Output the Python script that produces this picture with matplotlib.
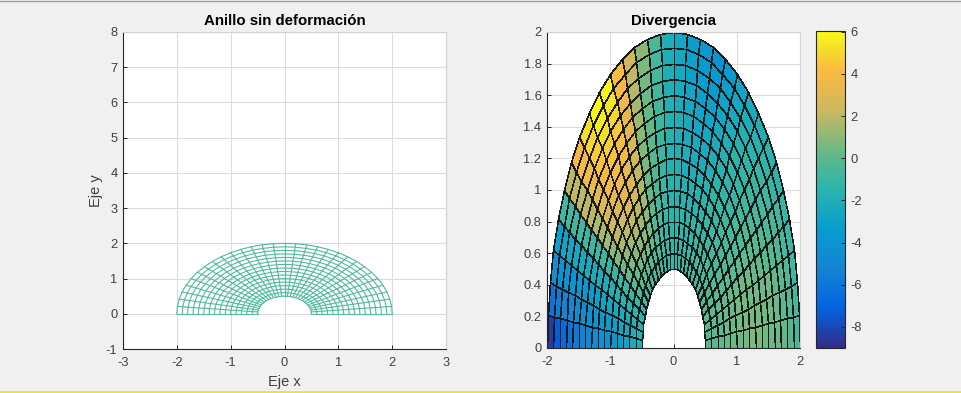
import matplotlib
matplotlib.use('Agg')
import matplotlib.pyplot as plt
import numpy as np
from matplotlib.colors import LinearSegmentedColormap, Normalize
from matplotlib.lines import Line2D

plt.rcParams['font.family'] = ['Liberation Sans', 'DejaVu Sans']
plt.rcParams['axes.unicode_minus'] = False

radii = [0.5, 0.6, 0.7, 0.8, 0.9, 1.0, 1.1, 1.2, 1.3, 1.4, 1.5, 1.6, 1.7, 1.8, 1.9, 2.0]
angles_deg = [0, 6, 12, 18, 24, 30, 36, 42, 48, 54, 60, 66, 72, 78, 84, 90, 96, 102, 108,
              114, 120, 126, 132, 138, 144, 150, 156, 162, 168, 174, 180]

# one list per sector, right to left; inside each list inner ring -> outer ring
divergence = [
    [-.2, -.1, 0, .2, .3, .4, .5, .6, .6, .5, .4, .3, .1, -.2, -.6],
    [-.2, 0, .1, .3, .4, .5, .6, .6, .6, .5, .4, .3, 0, -.2, -.7],
    [-.2, 0, .1, .3, .4, .5, .5, .5, .5, .4, .3, .1, -.1, -.4, -.8],
    [-.2, -.1, 0, .1, .2, .3, .3, .3, .2, .1, 0, -.2, -.4, -.6, -.9],
    [-.2, -.2, -.1, -.1, 0, 0, 0, 0, -.1, -.2, -.3, -.5, -.6, -.8, -1.1],
    [-.3, -.3, -.3, -.3, -.3, -.3, -.3, -.4, -.4, -.5, -.6, -.7, -.9, -1.1, -1.3],
    [-.4, -.4, -.4, -.5, -.5, -.6, -.6, -.7, -.8, -.8, -.9, -1, -1.1, -1.3, -1.5],
    [-.5, -.5, -.6, -.6, -.7, -.8, -.9, -1, -1, -1.1, -1.2, -1.3, -1.5, -1.7, -1.9],
    [-.6, -.6, -.7, -.8, -.9, -1, -1.1, -1.2, -1.3, -1.4, -1.5, -1.7, -1.8, -2, -2.3],
    [-.7, -.8, -.9, -1, -1.1, -1.2, -1.3, -1.5, -1.6, -1.8, -1.9, -2.1, -2.3, -2.5, -2.8],
    [-.8, -.9, -1, -1.2, -1.3, -1.5, -1.6, -1.8, -2, -2.2, -2.4, -2.6, -2.8, -3.1, -3.5],
    [-.9, -1, -1.2, -1.3, -1.5, -1.7, -1.9, -2.1, -2.3, -2.5, -2.8, -3, -3.3, -3.6, -4],
    [-1, -1.2, -1.3, -1.5, -1.6, -1.8, -2, -2.2, -2.4, -2.6, -2.8, -3, -3.2, -3.4, -3.7],
    [-1.1, -1.2, -1.4, -1.5, -1.7, -1.8, -2, -2.1, -2.3, -2.4, -2.6, -2.7, -2.9, -3, -3.2],
    [-1.2, -1.3, -1.4, -1.5, -1.6, -1.7, -1.8, -1.9, -2, -2.1, -2.2, -2.3, -2.4, -2.5, -2.6],
    [-1.2, -1.3, -1.4, -1.5, -1.5, -1.6, -1.6, -1.7, -1.7, -1.8, -1.8, -1.9, -1.9, -2, -2],
    [-1.1, -1.1, -1.1, -1.1, -1, -1, -1, -.9, -.9, -.9, -.8, -.8, -.7, -.6, -.5],
    [-1, -.9, -.8, -.7, -.6, -.5, -.3, -.2, -.1, .1, .2, .4, .5, .7, 1],
    [-.9, -.7, -.5, -.3, -.1, .1, .3, .6, .8, 1, 1.3, 1.5, 1.8, 2.1, 2.5],
    [-.6, -.3, .1, .5, .9, 1.3, 1.7, 2, 2.4, 2.7, 3, 3.3, 3.6, 3.9, 4.2],
    [-.5, -.1, .4, .9, 1.4, 1.9, 2.4, 2.9, 3.3, 3.8, 4.2, 4.6, 5, 5.4, 5.8],
    [-.4, 0, .5, 1, 1.5, 2, 2.6, 3.1, 3.6, 4, 4.4, 4.8, 5.2, 5.6, 6],
    [-.4, 0, .4, .9, 1.4, 1.9, 2.4, 2.9, 3.3, 3.7, 4, 4.3, 4.6, 4.9, 5.2],
    [-.5, -.2, .2, .6, 1, 1.5, 1.9, 2.3, 2.7, 3, 3.3, 3.5, 3.7, 3.8, 3.9],
    [-.8, -.5, -.2, .1, .4, .7, 1, 1.3, 1.5, 1.7, 1.9, 2, 2, 2, 1.9],
    [-1.1, -1.1, -1.1, -1, -1, -1, -1, -.9, -.9, -.9, -.9, -.8, -.8, -.8, -.8],
    [-1.4, -1.5, -1.6, -1.7, -1.8, -1.9, -2, -2.1, -2.2, -2.3, -2.4, -2.5, -2.6, -2.8, -3],
    [-1.6, -1.8, -2, -2.2, -2.4, -2.6, -2.8, -3, -3.2, -3.4, -3.6, -3.8, -4, -4.2, -4.5],
    [-1.8, -2.1, -2.4, -2.7, -3, -3.3, -3.6, -3.9, -4.1, -4.4, -4.7, -5, -5.3, -5.7, -6.2],
    [-2, -2.4, -2.8, -3.2, -3.6, -4, -4.3, -4.7, -5, -5.4, -5.8, -6.2, -6.6, -7.3, -8.4],
]

parula = LinearSegmentedColormap.from_list('parula_old', [
    (0.0, (.2081, .1663, .5292)),
    (.125, (.0117, .3875, .8820)),
    (.25, (.0780, .5200, .8312)),
    (.375, (.0265, .6137, .8135)),
    (.5, (.16, .71, .68)),
    (.6, (.36, .725, .55)),
    (.75, (.80, .72, .37)),
    (.875, (.99, .73, .25)),
    (.95, (.96, .88, .15)),
    (1.0, (.976, .984, .0805)),
])

W, H = 961, 393
BG = '#f0f0f0'
DARK = '#262626'
GRID = '#dcdcdc'
TXT = '#404040'


def px_axes(fig, x0, x1, y0, y1):
    return fig.add_axes([x0 / W, 1 - y1 / H, (x1 - x0) / W, (y1 - y0) / H])


def style_axes(ax):
    ax.set_axisbelow(True)
    ax.grid(True, color=GRID, linewidth=0.8)
    ax.tick_params(direction='in', length=3, width=0.7, color=DARK, labelcolor=TXT,
                   labelsize=9.3, pad=4)
    ax.tick_params(axis='x', pad=6)
    for side in ['left', 'bottom']:
        ax.spines[side].set_color(DARK)
        ax.spines[side].set_linewidth(0.8)
    for side in ['top', 'right']:
        ax.spines[side].set_color('#d2d2d2')
        ax.spines[side].set_linewidth(0.8)


def main():
    fig = plt.figure(figsize=(W / 100, H / 100), dpi=100, facecolor=BG)

    t = np.deg2rad(angles_deg)
    rr, tt = np.meshgrid(radii, t)
    X = rr * np.cos(tt)
    Y = rr * np.sin(tt)

    ax1 = px_axes(fig, 123, 446, 32, 349)
    style_axes(ax1)
    ax1.plot(X, Y, color='#52b8a0', linewidth=0.8)
    ax1.plot(X.T, Y.T, color='#52b8a0', linewidth=0.8)
    ax1.set_xlim(-3, 3)
    ax1.set_ylim(-1, 8)
    ax1.set_xticks(range(-3, 4))
    ax1.set_yticks(range(-1, 9))
    ax1.set_title('Anillo sin deformación', fontsize=10.8, fontweight='bold', pad=5)
    ax1.set_xlabel('Eje x', fontsize=10.5, color=TXT, labelpad=4)
    ax1.set_ylabel('Eje y', fontsize=10.5, color=TXT, labelpad=2)

    ax2 = px_axes(fig, 547, 800, 32, 348)
    style_axes(ax2)
    norm = Normalize(-9, 6.06)
    mesh = ax2.pcolormesh(X, Y, np.array(divergence), cmap=parula, norm=norm,
                          edgecolors='#1a1a1a', linewidth=0.4)
    ax2.set_xlim(-2, 2)
    ax2.set_ylim(0, 2)
    ax2.set_xticks(range(-2, 3))
    yt = [0, .2, .4, .6, .8, 1, 1.2, 1.4, 1.6, 1.8, 2]
    ax2.set_yticks(yt)
    ax2.set_yticklabels([f'{v:g}' for v in yt])
    ax2.set_title('Divergencia', fontsize=10.8, fontweight='bold', pad=5)

    cax = px_axes(fig, 816, 845, 30.5, 348)
    cbar = fig.colorbar(mesh, cax=cax)
    cbar.set_ticks([-8, -6, -4, -2, 0, 2, 4, 6])
    cbar.ax.tick_params(direction='in', length=3, width=0.7, color=DARK, labelcolor=TXT,
                        labelsize=9.3, pad=4)
    cbar.outline.set_edgecolor(DARK)
    cbar.outline.set_linewidth(0.8)

    fig.add_artist(Line2D([0, 1], [1 - 0.5 / H] * 2, color='#a0a0a0', linewidth=1))
    fig.add_artist(Line2D([0, 1], [1 - 392 / H] * 2, color='#f2e040', linewidth=1.4))

    fig.savefig('out.png', dpi=100, facecolor=BG)


if __name__ == '__main__':
    main()
